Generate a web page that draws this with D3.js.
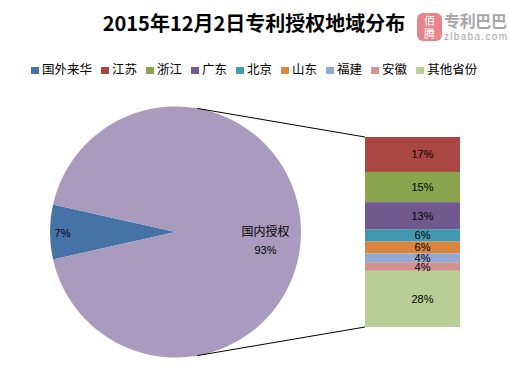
<!DOCTYPE html>
<html>
<head>
<meta charset="utf-8">
<script src="https://cdn.jsdelivr.net/npm/d3@7"></script>
<style>
  body { margin: 0; background: #fff; }
  svg { display: block; font-family: "Liberation Sans", "Noto Sans CJK SC", sans-serif; }
</style>
</head>
<body>
<svg width="509" height="375"></svg>
<script>
// main pie: 国外来华 vs 国内授权
const pieNames = ["国外来华", "国内授权"]
const pieValues = [7, 93]
const pieLabels = ["7%", "93%"]

// breakdown bar of 国内授权 (share of total), top to bottom
const provinces = ["江苏", "浙江", "广东", "北京", "山东", "福建", "安徽", "其他省份"]
const provinceValues = [17.1, 14.8, 13.2, 6.1, 5.7, 4.4, 4.2, 27.5]
const provinceLabels = ["17%", "15%", "13%", "6%", "6%", "4%", "4%", "28%"]

const legendNames = ["国外来华"].concat(provinces)

const colors = {
  "国外来华": "#4572a7",
  "国内授权": "#a99bbd",
  "江苏": "#aa4643",
  "浙江": "#89a54e",
  "广东": "#71588f",
  "北京": "#4198af",
  "山东": "#db843d",
  "福建": "#93a9cf",
  "安徽": "#d19392",
  "其他省份": "#b9cd96"
}

const svg = d3.select("svg")

// title
svg.append("text")
  .attr("x", 254)
  .attr("y", 31)
  .attr("text-anchor", "middle")
  .attr("font-size", 20)
  .attr("font-weight", "bold")
  .attr("font-family", "'Noto Sans CJK SC', sans-serif")
  .attr("fill", "#000")
  .text("2015年12月2日专利授权地域分布")

// watermark logo
const logo = svg.append("g")
logo.append("rect")
  .attr("x", 417).attr("y", 13)
  .attr("width", 25).attr("height", 28)
  .attr("rx", 6)
  .attr("fill", "#e8848b")
logo.append("text")
  .attr("x", 429.5).attr("y", 25)
  .attr("text-anchor", "middle")
  .attr("font-size", 11)
  .attr("fill", "#fff")
  .attr("font-family", "'Noto Sans CJK SC', sans-serif")
  .text("佰")
logo.append("text")
  .attr("x", 429.5).attr("y", 38)
  .attr("text-anchor", "middle")
  .attr("font-size", 11)
  .attr("fill", "#fff")
  .attr("font-family", "'Noto Sans CJK SC', sans-serif")
  .text("腾")
logo.append("text")
  .attr("x", 444).attr("y", 27)
  .attr("font-size", 16)
  .attr("font-weight", "bold")
  .attr("fill", "#a6a6a6")
  .attr("font-family", "'Noto Sans CJK SC', sans-serif")
  .attr("textLength", 63)
  .text("专利巴巴")
logo.append("text")
  .attr("x", 444).attr("y", 40)
  .attr("font-size", 10)
  .attr("fill", "#a6a6a6")
  .attr("textLength", 63)
  .text("zlbaba.com")

// legend
const legend = svg.append("g").attr("transform", "translate(31,69)")
let lx = 0
legendNames.forEach(name => {
  const item = legend.append("g").attr("transform", `translate(${lx},0)`)
  item.append("rect")
    .attr("x", 0).attr("y", -2)
    .attr("width", 8).attr("height", 7)
    .attr("fill", colors[name])
  const t = item.append("text")
    .attr("x", 11).attr("y", 4.5)
    .attr("font-size", 12.5)
    .attr("font-family", "'Noto Sans CJK SC', sans-serif")
    .attr("fill", "#000")
    .text(name)
  lx += 11 + t.node().getComputedTextLength() + 9
})

// pie
const cx = 175.5, cy = 232, r = 125.5
const blueShare = pieValues[0] / d3.sum(pieValues)
const start = 1.5 * Math.PI - blueShare * Math.PI

const pie = d3.pie().sort(null)
  .startAngle(start)
  .endAngle(start + 2 * Math.PI)
const arcs = pie(pieValues)
const arc = d3.arc().innerRadius(0).outerRadius(r)

const pieG = svg.append("g").attr("transform", `translate(${cx},${cy})`)
pieG.selectAll("path")
  .data(arcs)
  .enter()
  .append("path")
    .attr("d", arc)
    .attr("fill", (d, i) => colors[pieNames[i]])

// pie labels
const labelRadius = [113, 90]
arcs.forEach((d, i) => {
  const a = (d.startAngle + d.endAngle) / 2
  const x = Math.sin(a) * labelRadius[i]
  const y = -Math.cos(a) * labelRadius[i]
  if (i === 0) {
    pieG.append("text")
      .attr("x", x).attr("y", y + 5)
      .attr("text-anchor", "middle")
      .attr("font-size", 11)
      .attr("fill", "#000")
      .text(pieLabels[i])
  } else {
    pieG.append("text")
      .attr("x", x).attr("y", y + 4)
      .attr("text-anchor", "middle")
      .attr("font-size", 12)
      .attr("font-family", "'Noto Sans CJK SC', sans-serif")
      .attr("fill", "#000")
      .text(pieNames[i])
    pieG.append("text")
      .attr("x", x).attr("y", y + 22)
      .attr("text-anchor", "middle")
      .attr("font-size", 11)
      .attr("fill", "#000")
      .text(pieLabels[i])
  }
})

// stacked bar
const xBar = d3.scaleBand().domain(["国内授权"]).range([365, 460])
const yBar = d3.scaleLinear()
  .domain([0, d3.sum(provinceValues)])
  .range([137, 327])

const cum = d3.cumsum(provinceValues)
const segs = provinces.map((p, i) => ({
  name: p,
  y0: cum[i] - provinceValues[i],
  y1: cum[i],
  label: provinceLabels[i]
}))

const barG = svg.append("g")
barG.selectAll("rect")
  .data(segs)
  .enter()
  .append("rect")
    .attr("x", xBar("国内授权"))
    .attr("width", xBar.bandwidth())
    .attr("y", d => yBar(d.y0))
    .attr("height", d => yBar(d.y1) - yBar(d.y0))
    .attr("fill", d => colors[d.name])

barG.selectAll("text")
  .data(segs)
  .enter()
  .append("text")
    .attr("x", xBar("国内授权") + xBar.bandwidth() / 2 + 10)
    .attr("y", d => (yBar(d.y0) + yBar(d.y1)) / 2 + 4)
    .attr("text-anchor", "middle")
    .attr("font-size", 11)
    .attr("fill", "#000")
    .text(d => d.label)

// connector lines from pie top / bottom to bar
const off = 10 * Math.PI / 180
const px = cx + Math.sin(off) * r
const topY = cy - Math.cos(off) * r
const botY = cy + Math.cos(off) * r
svg.append("line")
  .attr("x1", px).attr("y1", topY)
  .attr("x2", xBar("国内授权")).attr("y2", yBar(0))
  .attr("stroke", "#000").attr("stroke-width", 1)
svg.append("line")
  .attr("x1", px).attr("y1", botY)
  .attr("x2", xBar("国内授权")).attr("y2", yBar(d3.sum(provinceValues)))
  .attr("stroke", "#000").attr("stroke-width", 1)
</script>
</body>
</html>
